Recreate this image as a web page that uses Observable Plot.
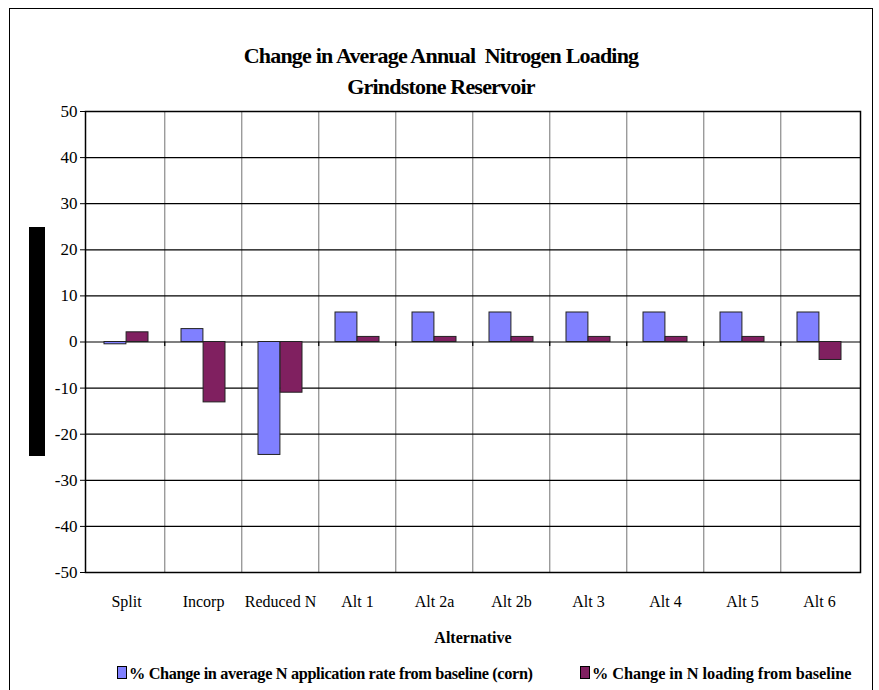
<!DOCTYPE html>
<html>
<head>
<meta charset="utf-8">
<script src="https://cdn.jsdelivr.net/npm/d3@7"></script>
<script src="https://cdn.jsdelivr.net/npm/@observablehq/plot@0.6"></script>
<style>
  html, body { margin: 0; padding: 0; background: #fff; }
  body { width: 879px; height: 690px; position: relative; overflow: hidden; font-family: "Liberation Serif", serif; }
  #frame { position: absolute; left: 9px; top: 8px; width: 864px; height: 720px; border: 1.5px solid #000; box-sizing: border-box; }
  #title { position: absolute; left: 0; top: 40px; width: 882px; text-align: center; font-family: "Liberation Serif", serif; font-weight: bold; font-size: 22px; line-height: 31px; letter-spacing: -0.8px; color: #000; }
  #ylab { position: absolute; left: 29px; top: 227px; width: 16px; height: 229px; background: #000; }
  #chart { position: absolute; left: 0; top: 100px; }
  #chart svg text { font-family: "Liberation Serif", serif !important; }
  #legend { position: absolute; left: 0; top: 664px; width: 879px; font-family: "Liberation Serif", serif; font-weight: bold; font-size: 16.3px; color: #000; }
  #legend .item { position: absolute; top: 0; white-space: nowrap; }
  #legend .sw { display: inline-block; width: 8px; height: 11px; border: 1px solid #000; margin-right: 2px; vertical-align: 0px; letter-spacing: 0; }
  #chart svg g[aria-label="x-axis label"] text { font-weight: bold; }
</style>
</head>
<body>
<div id="frame"></div>
<div id="title">Change in Average Annual&nbsp; Nitrogen Loading<br>Grindstone Reservoir</div>
<div id="ylab"></div>
<div id="chart"></div>
<div id="legend"></div>
<script>
const categories = ["Split", "Incorp", "Reduced N", "Alt 1", "Alt 2a", "Alt 2b", "Alt 3", "Alt 4", "Alt 5", "Alt 6"];
const appRateChange = [-0.5, 2.8, -24.5, 6.4, 6.4, 6.4, 6.4, 6.4, 6.4, 6.4];
const loadingChange = [2.1, -13.1, -11.0, 1.1, 1.1, 1.1, 1.1, 1.1, 1.1, -3.9];
const yTicks = [-50, -40, -30, -20, -10, 0, 10, 20, 30, 40, 50];
const seriesNames = ["% Change in average N application rate from baseline (corn)", "% Change in N loading from baseline"];
const seriesColors = ["#8080FF", "#802060"];

const rows = categories.map((c, i) => ({cat: c, rate: appRateChange[i], load: loadingChange[i]}));

const width = 879, marginLeft = 85, marginRight = 19;
const step = (width - marginLeft - marginRight) / categories.length;
const padInner = 0.43;
const half = step * (1 - padInner) / 2;
const serif = "'Liberation Serif', serif";

const chart = Plot.plot({
  width,
  height: 547,
  marginLeft,
  marginRight,
  marginTop: 11,
  marginBottom: 75,
  style: {fontFamily: serif, fontSize: "16px", color: "#000", background: "transparent"},
  x: {domain: categories, paddingInner: padInner, paddingOuter: padInner / 2, label: null},
  y: {domain: [-50, 50], label: null},
  marks: [
    Plot.ruleX(categories.slice(1), {x: d => d, dx: -step / 2, stroke: "#8a8a8a", strokeWidth: 1.2}),
    Plot.ruleY(yTicks, {stroke: "#000", strokeWidth: 1.2}),
    Plot.ruleX(categories.slice(1), {x: d => d, dx: -step / 2, y1: 0, y2: -1, stroke: "#000", strokeWidth: 1.2}),
    Plot.barY(rows, {x: "cat", y: "rate", fill: seriesColors[0], stroke: "#222", strokeWidth: 1, insetRight: half}),
    Plot.barY(rows, {x: "cat", y: "load", fill: seriesColors[1], stroke: "#222", strokeWidth: 1, insetLeft: half}),
    Plot.frame({stroke: "#000", strokeWidth: 1.5}),
    Plot.axisY({ticks: yTicks, tickSize: 5, tickPadding: 3, tickFormat: d => d, label: null, fontSize: 17, fontFamily: serif}),
    Plot.axisX({tickSize: 0, tickPadding: 23, fontSize: 16, fontFamily: serif, label: "Alternative", labelAnchor: "center", labelOffset: 70})
  ]
});
document.getElementById("chart").appendChild(chart);

const legend = document.getElementById("legend");
const lefts = [117, 580];
const spacing = ["-0.35px", "-0.05px"];
seriesNames.forEach((name, i) => {
  const item = document.createElement("div");
  item.className = "item";
  item.style.left = lefts[i] + "px";
  item.style.letterSpacing = spacing[i];
  const sw = document.createElement("span");
  sw.className = "sw";
  sw.style.background = seriesColors[i];
  item.appendChild(sw);
  item.appendChild(document.createTextNode(name));
  legend.appendChild(item);
});
</script>
</body>
</html>
